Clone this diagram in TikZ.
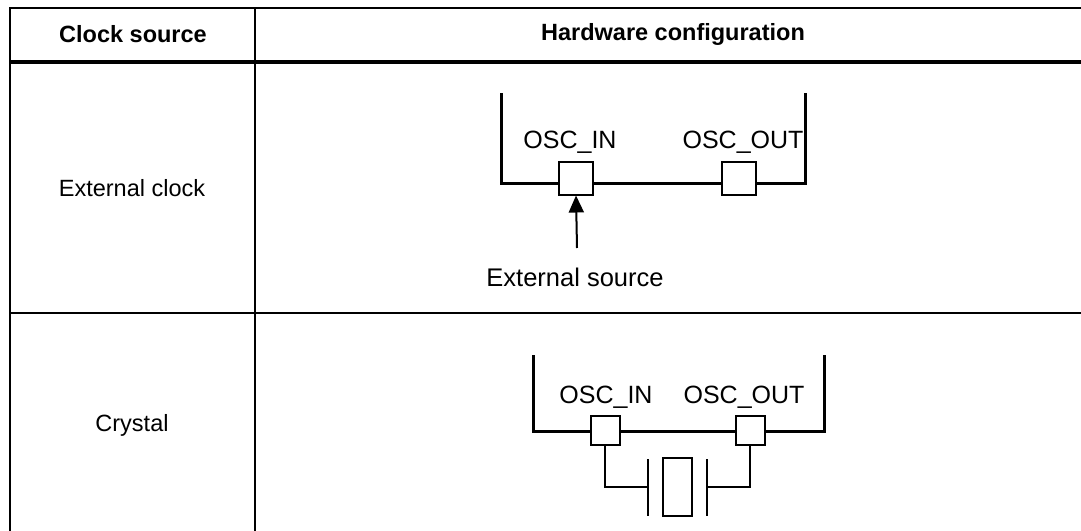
\documentclass[tikz,border=0pt]{standalone}
\usepackage{fontspec}
\setmainfont{Liberation Sans}
\usetikzlibrary{arrows.meta}
\begin{document}
\begin{tikzpicture}[x=1pt,y=-1pt,
  grid/.style={line width=2.4pt},
  wire/.style={line width=3pt},
  thin/.style={line width=2pt},
  pin/.style={draw,line width=2pt,fill=white,minimum width=34pt,minimum height=33pt,inner sep=0pt},
  lbl/.style={font=\fontsize{25}{28}\selectfont,inner sep=0pt},
  hdr/.style={font=\fontsize{23.5}{26}\selectfont\bfseries,inner sep=0pt},
  cell/.style={font=\fontsize{23.5}{26}\selectfont,inner sep=0pt}]
\useasboundingbox (0,0) rectangle (1081,530);
% table (cropped at right and bottom)
\draw[grid] (10,535) -- (10,8) -- (1090,8);
\draw[grid] (255,8) -- (255,535);
\draw[line width=4pt] (10,62) -- (1090,62);
\draw[grid] (10,313) -- (1090,313);
\node[hdr] (h1) at (133,34) {Clock source};
\node[hdr] (h2) at (673,34) {Hardware configuration};
\node[cell] (c1) at (132,188) {External clock};
\node[cell] (c2) at (132,425) {Crystal};
% row 1
\draw[wire] (501,93) -- (501,183) -- (805,183) -- (805,93);
\node[pin] (p1) at (576,178) {};
\node[pin] (p2) at (739,178) {};
\node[lbl] at (570,142) {OSC\_IN};
\node[lbl] at (743,142) {OSC\_OUT};
\node[cell,font=\fontsize{25.5}{28}\selectfont] (src) at (575,277) {External source};
\coordinate (a0) at (577,248);
\draw[thin,-{Triangle[length=17pt,width=15pt]}] (a0) -- (p1.south);
% row 2
\draw[wire] (533,355) -- (533,431) -- (824,431) -- (824,355);
\node[pin,minimum width=29pt,minimum height=29pt] (q1) at (605,430) {};
\node[pin,minimum width=29pt,minimum height=29pt] (q2) at (750,430) {};
\node[lbl] at (606,397) {OSC\_IN};
\node[lbl] at (744,397) {OSC\_OUT};
\draw[thin] (q1.south) |- (648,487);
\draw[thin] (q2.south) |- (707,487);
\draw[thin] (648,459) -- (648,516);
\draw[thin] (707,459) -- (707,516);
\draw[thin] (663,458) rectangle (692,516);
\end{tikzpicture}
\end{document}
